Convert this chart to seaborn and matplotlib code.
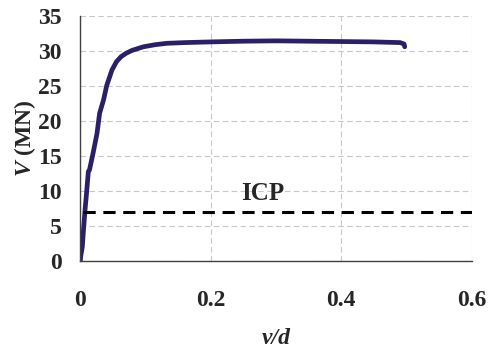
import matplotlib
matplotlib.use("Agg")
import matplotlib.pyplot as plt
import seaborn as sns
import pandas as pd

# data
disp = [0.0005, 0.001, 0.002, 0.0035, 0.005, 0.0077, 0.010, 0.0128, 0.0145, 0.020,
        0.026, 0.030, 0.036, 0.041, 0.049, 0.056, 0.063, 0.071, 0.080, 0.097,
        0.115, 0.133, 0.16, 0.2, 0.25, 0.3, 0.35, 0.4, 0.45, 0.49, 0.496, 0.497]
load = [0.0, 0.6, 1.2, 2.0, 4.0, 7.3, 9.7, 12.8, 13.0, 15.4,
        18.2, 21.1, 23.0, 25.1, 27.3, 28.5, 29.2, 29.7, 30.1, 30.6,
        30.9, 31.1, 31.2, 31.3, 31.4, 31.45, 31.4, 31.35, 31.3, 31.2, 31.0, 30.6]
icp_x = [0.004, 0.6]
icp_y = [7, 7]
xticks = [0, 0.2, 0.4, 0.6]
xticklabels = ["0", "0.2", "0.4", "0.6"]
yticks = [0, 5, 10, 15, 20, 25, 30, 35]

sns.set_style("white")
plt.rcParams['font.family'] = ['Liberation Serif', 'DejaVu Serif']
plt.rcParams['mathtext.fontset'] = 'custom'
plt.rcParams['mathtext.it'] = 'Liberation Serif:italic:bold'
plt.rcParams['mathtext.rm'] = 'Liberation Serif:bold'

fig = plt.figure(figsize=(4.88, 3.48), dpi=100)
ax = fig.add_axes([80/488, 1-261/348, (472-80)/488, (261-16)/348])

df = pd.DataFrame({"v/d": disp, "V": load})
sns.lineplot(data=df, x="v/d", y="V", ax=ax, color="#2b1f68", linewidth=3.4,
             sort=False, estimator=None)
dfi = pd.DataFrame({"x": icp_x, "y": icp_y})
sns.lineplot(data=dfi, x="x", y="y", ax=ax, color="black", linewidth=2.2,
             linestyle=(0, (4, 2.5)))

ax.text(0.246, 9.7, "ICP", fontsize=18, fontweight="bold", va="center", ha="left")

ax.set_xlim(0, 0.6)
ax.set_ylim(0, 35)
ax.set_xticks(xticks)
ax.set_xticklabels(xticklabels)
ax.set_yticks(yticks)
ax.grid(True, color="#c8c8c8", linestyle=(0, (5, 3)), linewidth=0.8)
for s in ["top", "right"]:
    ax.spines[s].set_visible(False)
for s in ["left", "bottom"]:
    ax.spines[s].set_color("#404040")
    ax.spines[s].set_linewidth(1.0)
ax.tick_params(axis="both", which="both", direction="out", length=7, width=1,
               color="#404040", labelsize=17)
ax.tick_params(axis="x", pad=14)
ax.tick_params(axis="y", pad=6)
for lab in ax.get_xticklabels() + ax.get_yticklabels():
    lab.set_fontweight("bold")

ax.set_xlabel("v/d", fontsize=17, fontweight="bold", fontstyle="italic", labelpad=12)
ax.set_ylabel(r"$V$ (MN)", fontsize=17, fontweight="bold", labelpad=0.5)

fig.savefig("out.png", dpi=100)
